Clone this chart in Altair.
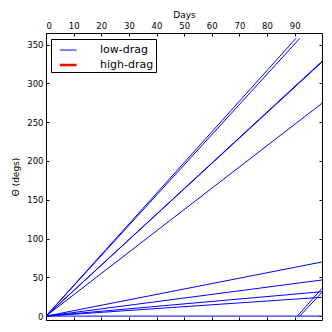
import altair as alt
import pandas as pd

# Each trajectory segment: start point and end point (Days, Theta)
series = ["A", "A", "A2", "A2", "B", "B", "B2", "B2", "C", "C", "D", "D",
          "E", "E", "F", "F", "G", "G", "H", "H", "I", "I", "J", "J"]
days = [0, 90.5, 90.96, 99.9, 0, 91.9, 91.83, 99.9, 0, 99.9, 0, 99.9,
        0, 99.9, 0, 99.9, 0, 99.9, 0, 99.9, 0, 99.9, 0, 99.9]
theta = [0, 358.2, 0, 35.9, 0, 358.2, 0, 30.7, 0, 328.5, 0, 327.5,
         0, 274.4, 0, 69.8, 0, 46.6, 0, 31.5, 0, 24.3, 0, 0]
drag = ["low-drag"] * len(series)

legend_labels = ["low-drag", "high-drag"]
x_ticks = [0, 10, 20, 30, 40, 50, 60, 70, 80, 90]
y_ticks = [0, 50, 100, 150, 200, 250, 300, 350]

df = pd.DataFrame({"series": series, "day": days, "theta": theta, "drag": drag})

W, H = 276, 287
xscale = alt.Scale(domain=[0, 99.9], nice=False, zero=False)
yscale = alt.Scale(domain=[-5, 365], nice=False, zero=False)

leg = alt.Legend(
    title=None, orient="none", legendX=5, legendY=6,
    strokeColor="black", fillColor="white", padding=2, cornerRadius=0,
    symbolType="M-0.335,0.0625H1.765", symbolSize=256, symbolOffset=0, labelFontSize=11,
    labelFont="DejaVu Sans", labelColor="black", labelOffset=28, rowPadding=0,
)

lines = alt.Chart(df).mark_line(clip=True).encode(
    x=alt.X("day:Q", scale=xscale,
            axis=alt.Axis(orient="top", title="Days", values=x_ticks, ticks=False,
                          tickSize=0, domain=False, grid=False, labelPadding=3,
                          titlePadding=2)),
    y=alt.Y("theta:Q", scale=yscale,
            axis=alt.Axis(orient="left", title="Θ (degs)", values=y_ticks, ticks=False,
                          tickSize=0, domain=False, grid=False, labelPadding=3,
                          titlePadding=6)),
    color=alt.Color("drag:N", scale=alt.Scale(domain=legend_labels, range=["#0000ff", "#ff0000"]),
                    legend=leg),
    strokeWidth=alt.StrokeWidth("drag:N", scale=alt.Scale(domain=legend_labels, range=[1, 2.5]),
                                legend=leg),
    detail="series:N",
)

ticks_a = alt.Chart(df).mark_point(opacity=0).encode(
    x=alt.X("day:Q", scale=xscale,
            axis=alt.Axis(orient="bottom", offset=-H, labels=False, title=None, domain=False,
                          grid=False, tickSize=3, values=x_ticks)),
    y=alt.Y("theta:Q", scale=yscale,
            axis=alt.Axis(orient="right", offset=-W, labels=False, title=None, domain=False,
                          grid=False, tickSize=3, values=y_ticks)),
)

ticks_b = alt.Chart(df).mark_point(opacity=0).encode(
    x=alt.X("day:Q", scale=xscale,
            axis=alt.Axis(orient="top", offset=-H, labels=False, title=None, domain=False,
                          grid=False, tickSize=3, values=x_ticks)),
    y=alt.Y("theta:Q", scale=yscale,
            axis=alt.Axis(orient="left", offset=-W, labels=False, title=None, domain=False,
                          grid=False, tickSize=3, values=y_ticks)),
)

chart = alt.layer(lines, ticks_a, ticks_b).resolve_axis(
    x="independent", y="independent"
).properties(
    width=W, height=H,
    autosize=alt.AutoSizeParams(type="none"),
    padding={"left": 38, "top": 25, "right": 2, "bottom": 4},
).configure_view(
    stroke="black", strokeWidth=1
).configure_axis(
    labelFont="DejaVu Sans", labelFontSize=8.5, labelColor="black",
    titleFont="DejaVu Sans", titleFontSize=9, titleFontWeight="normal", titleColor="black",
    tickColor="black",
)

chart.save("out.html", embed_options={"renderer": "svg", "actions": False})
